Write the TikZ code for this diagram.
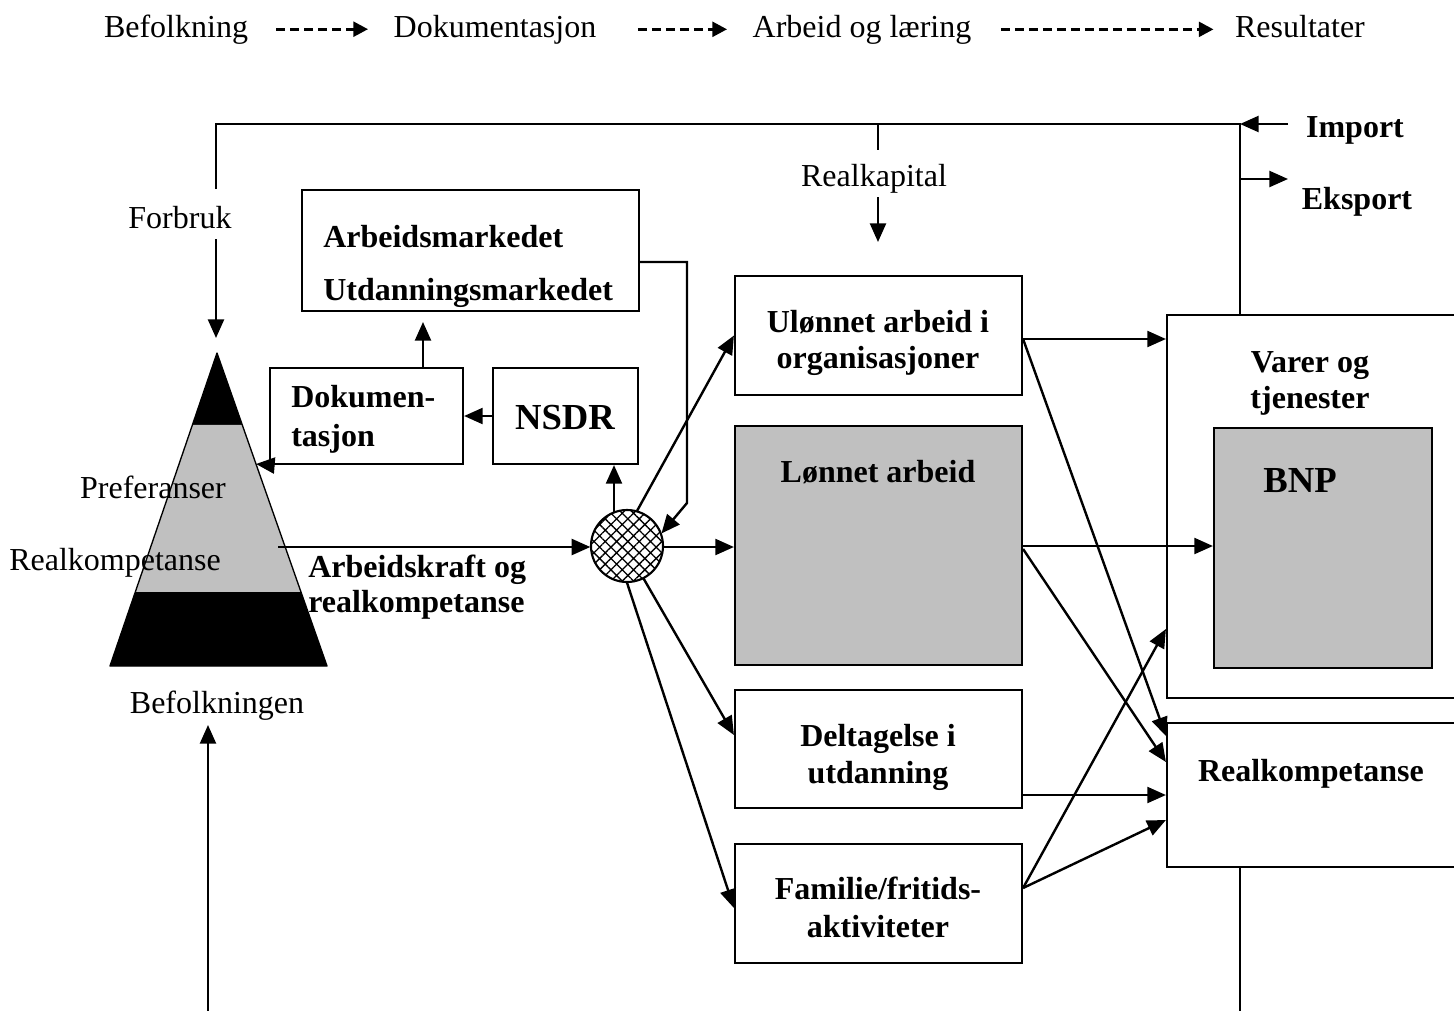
\documentclass[tikz,border=0pt]{standalone}
\usepackage{fontspec}
\setmainfont{Liberation Serif}
\usetikzlibrary{arrows.meta,fit,calc,patterns.meta}
\definecolor{boxgray}{RGB}{192,192,192}
\begin{document}
\begin{tikzpicture}[x=0.75pt,y=-0.75pt,
  box/.style={draw,line width=1.6pt,inner sep=0pt},
  conn/.style={line width=1.8pt},
  arr/.style={line width=1.8pt,-{Triangle[length=14pt,width=12pt]}},
  darr/.style={line width=2.4pt,dash pattern=on 6.5pt off 4pt,-{Triangle[length=11pt,width=11pt]}},
  txt/.style={inner sep=0pt,anchor=base,font=\fontsize{24}{28}\selectfont},
  btxt/.style={inner sep=0pt,anchor=base,font=\fontsize{24}{28}\selectfont\bfseries},
  bigtxt/.style={inner sep=0pt,anchor=base,font=\fontsize{27.5}{32}\selectfont\bfseries}
]
\useasboundingbox (0,0) rectangle (1454,1011);
\clip (0,0) rectangle (1454,1011);

% ---- top legend row
\node[txt] (t1) at (176,37) {Befolkning};
\node[txt] (t2) at (495,37) {Dokumentasjon};
\node[txt] (t3) at (862,37) {Arbeid og læring};
\node[txt] (t4) at (1300,37) {Resultater};
\draw[darr,shorten <=21pt,shorten >=19pt] (t1.east) -- (t1.east -| t2.west);
\draw[darr,shorten <=31pt,shorten >=19pt] (t2.east) -- (t2.east -| t3.west);
\draw[darr,shorten <=22pt,shorten >=16pt] (t3.east) -- (t3.east -| t4.west);

% ---- coordinates of the frame
\coordinate (cTL) at (216,124);
\coordinate (cTR) at (1240,124);
\coordinate (fbA) at (216,189);
\coordinate (fbB) at (216,239);
\coordinate (fbEnd) at (216,338);
\coordinate (rkTop) at (878,124);
\coordinate (rkA) at (878,150);
\coordinate (rkB) at (878,197);
\coordinate (rkEnd) at (878,242);
\coordinate (impS) at (1288,124);
\coordinate (eksA) at (1240,179);
\coordinate (eksEnd) at (1288,179);
\coordinate (botL) at (208,1011);
\coordinate (botR) at (1240,1011);

% ---- pyramid
\coordinate (apex) at (217,353);
\coordinate (bl) at (110,666);
\coordinate (br) at (327,666);
\fill[black] (apex) -- ($(apex)!0.23!(bl)$) -- ($(apex)!0.23!(br)$) -- cycle;
\fill[boxgray] ($(apex)!0.23!(bl)$) -- ($(apex)!0.23!(br)$) -- ($(apex)!0.7636!(br)$) -- ($(apex)!0.7636!(bl)$) -- cycle;
\fill[black] ($(apex)!0.7636!(bl)$) -- ($(apex)!0.7636!(br)$) -- (br) -- (bl) -- cycle;
\draw[line width=1pt,line join=round] (apex) -- (bl) -- (br) -- cycle;
\coordinate (pyrR) at (256,464);
\coordinate (pyrOut) at (278,547);

% ---- labels on the left
\node[txt] (fb) at (180,228) {Forbruk};
\node[txt] (rk) at (874,186) {Realkapital};
\node[txt] (pref) at (153,498) {Preferanser};
\node[txt] (rkomp) at (115,570) {Realkompetanse};
\node[txt] (befo) at (217,713) {Befolkningen};
\node[btxt,anchor=base west] (ak1) at (308,577) {Arbeidskraft og};
\node[btxt,anchor=base west] (ak2) at (308,612) {realkompetanse};
\node[btxt] (imp) at (1355,137) {Import};
\node[btxt] (eks) at (1357,209) {Eksport};

% ---- boxes
\node[box,fit={(302,190) (639,311)}] (arb) {};
\node[btxt,anchor=base west] at (323,247) {Arbeidsmarkedet};
\node[btxt,anchor=base west] at (323,300) {Utdanningsmarkedet};

\node[box,fit={(270,368) (463,464)}] (dok) {};
\node[btxt,anchor=base west] at (291,407) {Dokumen-};
\node[btxt,anchor=base west] at (291,446) {tasjon};

\node[box,fit={(493,368) (638,464)}] (nsdr) {};
\node[bigtxt] at (565,429) {NSDR};

\node[circle,draw,line width=1.6pt,minimum size=54pt,inner sep=0pt,fill=white,
      pattern={Hatch[angle=45,distance=6pt,line width=1pt]}] (circ) at (627,546) {};

\node[box,fit={(735,276) (1022,395)}] (ulon) {};
\node[btxt] at (878,332) {Ulønnet arbeid i};
\node[btxt] at (878,368) {organisasjoner};

\node[box,fill=boxgray,fit={(735,426) (1022,665)}] (lonn) {};
\node[btxt] at (878,482) {Lønnet arbeid};

\node[box,fit={(735,690) (1022,808)}] (delt) {};
\node[btxt] at (878,746) {Deltagelse i};
\node[btxt] at (878,783) {utdanning};

\node[box,fit={(735,844) (1022,963)}] (fam) {};
\node[btxt] at (878,899) {Familie/fritids-};
\node[btxt] at (878,937) {aktiviteter};

\node[box,fit={(1167,315) (1470,698)}] (varer) {};
\node[btxt] at (1310,372) {Varer og};
\node[btxt] at (1310,408) {tjenester};

\node[box,fill=boxgray,fit={(1214,428) (1432,668)}] (bnp) {};
\node[bigtxt] at (1300,492) {BNP};

\node[box,fit={(1167,723) (1470,867)}] (realk) {};
\node[btxt] at (1311,781) {Realkompetanse};

% ---- frame connectors
\draw[conn] (fbA) -- (cTL) -- (cTR) -- (varer.north -| cTR);
\draw[arr] (fbB) -- (fbEnd);
\draw[conn] (rkTop) -- (rkA);
\draw[arr] (rkB) -- (rkEnd);
\draw[arr] (impS) -- (cTR);
\draw[arr] (eksA) -- (eksEnd);
\draw[conn] (realk.south -| cTR) -- (botR);
\draw[arr] (botL) -- (botL |- 0,725);

% ---- left connectors
\draw[arr] (dok.north -| 423,0) -- (423,322);
\draw[arr] (nsdr.west) -- (dok.east);
\draw[arr] (dok.south west) -- (pyrR);
\draw[arr] (pyrOut) -- (pyrOut -| circ.west);
\draw[arr] ($(circ.north -| 614,0)+(0,2.5)$) -- (nsdr.south -| 614,0);
\draw[arr] (arb.east |- 0,262) -- (687,262) -- (687,503) -- (circ.20);

% ---- circle to activities
\draw[arr] (circ.74) -- (ulon.west);
\draw[arr] (circ.east |- pyrOut) -- (lonn.west |- pyrOut);
\draw[arr] (circ.-63) -- (delt.west |- 0,735);
\draw[arr] (circ.-90) -- (fam.west |- 0,908);

% ---- activities to results
\draw[arr] (ulon.east |- 0,339) -- (varer.west |- 0,339);
\draw[arr] (ulon.east |- 0,339) -- (realk.west |- 0,736);
\draw[arr] (lonn.east |- 0,546) -- (bnp.west |- 0,546);
\draw[arr] (lonn.east |- 0,549) -- (realk.west |- 0,762);
\draw[arr] (delt.east |- 0,795) -- (realk.west |- 0,795);
\draw[arr] (fam.east |- 0,888) -- (realk.west |- 0,820);
\draw[arr] (fam.east |- 0,888) -- (varer.west |- 0,629);
\end{tikzpicture}
\end{document}
